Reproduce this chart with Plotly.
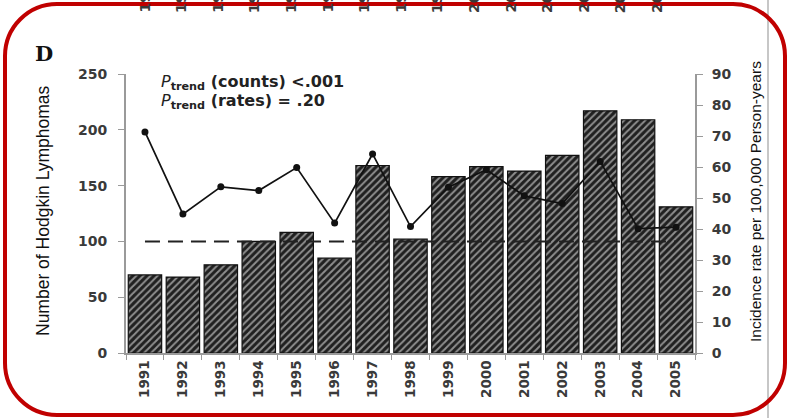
import plotly.graph_objects as go

# Hodgkin lymphoma counts and incidence rates by year
years = ["1991", "1992", "1993", "1994", "1995", "1996", "1997", "1998",
         "1999", "2000", "2001", "2002", "2003", "2004", "2005"]
counts = [70, 68, 79, 100, 108, 85, 168, 102, 158, 167, 163, 177, 217, 209, 131]
rates = [71.3, 44.8, 53.6, 52.4, 59.8, 41.9, 64.2, 40.8, 53.5, 59.1, 50.7, 48.2, 61.8, 40.1, 40.6]
reference_count = 100

# year labels of the panel above, partly cut by the page edge
upper_years = years

W, H = 788, 418
PL, PR, PT, PB = 126, 695, 74, 353


def px(x):
    return (x - PL) / (PR - PL)


def py(y):
    return (PB - y) / (PB - PT)


TICK_FONT = dict(family="DejaVu Sans", size=14, color="#3a3a3a")

fig = go.Figure()

fig.add_trace(go.Bar(
    x=years, y=counts, yaxis="y",
    marker=dict(
        color="#1a1a1a",
        line=dict(color="#111111", width=1.2),
        pattern=dict(shape="/", fillmode="replace", bgcolor="#202020",
                     fgcolor="#8e8e8e", size=5, solidity=0.4),
    ),
    showlegend=False,
))

fig.add_trace(go.Scatter(
    x=[years[0], years[-1]], y=[reference_count, reference_count], yaxis="y",
    mode="lines", line=dict(color="#222222", width=2, dash="15px,8px"),
    showlegend=False,
))

fig.add_trace(go.Scatter(
    x=years, y=rates, yaxis="y2",
    mode="lines+markers",
    line=dict(color="#111111", width=1.7),
    marker=dict(color="#111111", size=7),
    showlegend=False,
))

k = 0.5523
x0, x1, y0, y1, r = 5, 785, 4, 415, 52


def P(x, y):
    return f"{px(x):.5f},{py(y):.5f}"


frame = (
    f"M{P(x0 + r, y0)} L{P(x1 - r, y0)} "
    f"C{P(x1 - r + k * r, y0)} {P(x1, y0 + r - k * r)} {P(x1, y0 + r)} "
    f"L{P(x1, y1 - r)} "
    f"C{P(x1, y1 - r + k * r)} {P(x1 - r + k * r, y1)} {P(x1 - r, y1)} "
    f"L{P(x0 + r, y1)} "
    f"C{P(x0 + r - k * r, y1)} {P(x0, y1 - r + k * r)} {P(x0, y1 - r)} "
    f"L{P(x0, y0 + r)} "
    f"C{P(x0, y0 + r - k * r)} {P(x0 + r - k * r, y0)} {P(x0 + r, y0)} Z"
)

shapes = [
    dict(type="line", xref="paper", yref="paper", x0=px(768), x1=px(768),
         y0=py(0), y1=py(H), line=dict(color="#b5b5b5", width=1.5), layer="below"),
    dict(type="path", xref="paper", yref="paper", path=frame,
         line=dict(color="#c00000", width=4), layer="above"),
]


def note(text, x, y, size, family="DejaVu Sans", angle=0, xanchor="center",
         yanchor="middle", color="#222"):
    return dict(text=text, x=px(x), y=py(y), xref="paper", yref="paper",
                xanchor=xanchor, yanchor=yanchor, textangle=angle,
                showarrow=False, font=dict(family=family, size=size, color=color))


annotations = [
    note("<b>D</b>", 44, 53, 21, family="DejaVu Serif", color="#111"),
    note("<i>P</i><sub><b>trend</b></sub><b> (counts) &lt;.001</b>", 159, 82, 16,
         xanchor="left"),
    note("<i>P</i><sub><b>trend</b></sub><b> (rates) = .20</b>", 159, 101, 16,
         xanchor="left"),
    note("Number of Hodgkin Lymphomas", 43, 211, 17.5, family="Liberation Sans",
         angle=-90, color="#111"),
    note("Incidence rate per 100,000 Person-years", 755, 202, 15.5,
         family="Liberation Sans", angle=-90, color="#111"),
]

for i, label in enumerate(upper_years):
    annotations.append(note(f"<b>{label}</b>", 145 + i * 36.6, 15, 14, angle=-90,
                            yanchor="bottom", color="#3a3a3a"))

axis_common = dict(showline=True, linecolor="#9a9a9a", linewidth=2, ticks="outside",
                   tickcolor="#9a9a9a", showgrid=False, zeroline=False,
                   tickprefix="<b>", ticksuffix="</b>")

fig.update_layout(
    width=W, height=H,
    margin=dict(l=PL, r=W - PR, t=PT, b=H - PB),
    paper_bgcolor="white", plot_bgcolor="white",
    bargap=0.12,
    xaxis=dict(type="category", range=[-0.5, len(years) - 0.5], tickangle=-90,
               tickson="boundaries", ticklen=5,
               tickfont=dict(family="DejaVu Sans", size=13.5, color="#3a3a3a"),
               **axis_common),
    yaxis=dict(range=[0, 250], dtick=50, ticklen=6, tickfont=TICK_FONT,
               ticklabelstandoff=8, **axis_common),
    yaxis2=dict(range=[0, 90], dtick=10, overlaying="y", side="right", ticklen=6,
                tickfont=TICK_FONT, ticklabelstandoff=6, **axis_common),
    shapes=shapes,
    annotations=annotations,
)

fig.write_html("out.html")
